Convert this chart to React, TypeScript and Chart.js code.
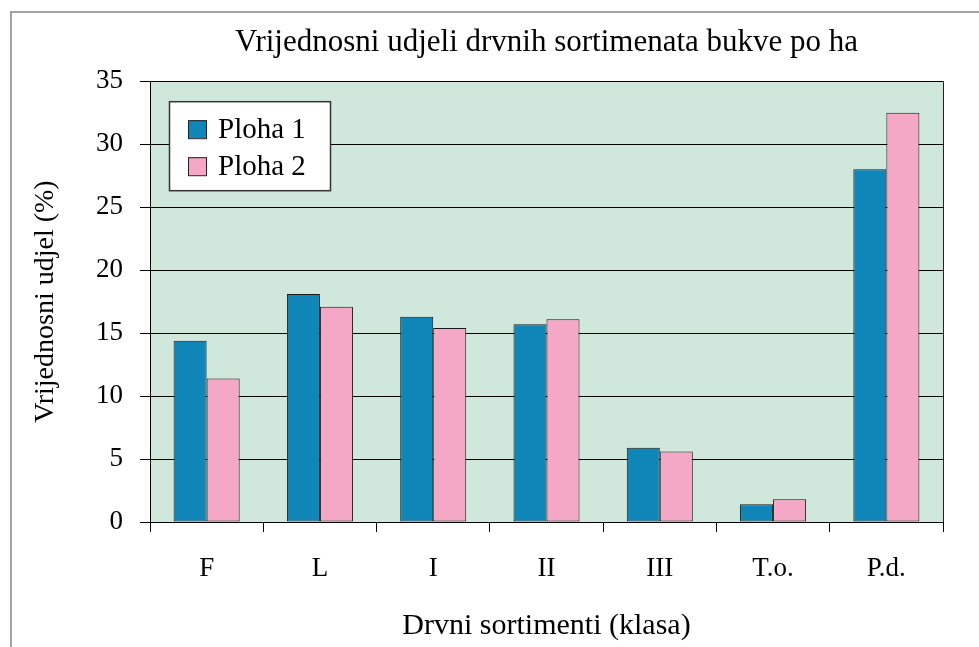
import React, { useEffect, useRef } from "react";
import { Chart, registerables } from "chart.js";

Chart.register(...registerables);

const categories = ["F", "L", "I", "II", "III", "T.o.", "P.d."];
const ploha1 = [14.4, 18.1, 16.3, 15.7, 5.9, 1.4, 28.0];
const ploha2 = [11.4, 17.1, 15.4, 16.1, 5.6, 1.8, 32.5];
const seriesNames = ["Ploha 1", "Ploha 2"];
const seriesColors = ["#1086b8", "#f5a8c6"];
const yTicks = { min: 0, max: 35, step: 5 };
const chartTitle = "Vrijednosni udjeli drvnih sortimenata bukve po ha";
const yTitle = "Vrijednosni udjel (%)";
const xTitle = "Drvni sortimenti (klasa)";

const FONT = "'Liberation Serif', 'Times New Roman', serif";

const plotBg = {
  id: "plotBg",
  beforeDraw(chart: any) {
    const { ctx, chartArea: a } = chart;
    ctx.save();
    ctx.fillStyle = "#d0e7db";
    ctx.fillRect(a.left, a.top, a.right - a.left, a.bottom - a.top);
    ctx.restore();
  },
  afterDraw(chart: any) {
    const { ctx, chartArea: a } = chart;
    ctx.save();
    ctx.strokeStyle = "#222";
    ctx.lineWidth = 1;
    ctx.beginPath();
    ctx.moveTo(Math.round(a.right) + 0.5, a.top);
    ctx.lineTo(Math.round(a.right) + 0.5, a.bottom);
    ctx.stroke();
    ctx.restore();
  },
};

const innerLegend = {
  id: "innerLegend",
  afterDraw(chart: any) {
    const { ctx, chartArea: a } = chart;
    const x = a.left + 19;
    const y = a.top + 20;
    const w = 161;
    const h = 89;
    ctx.save();
    ctx.fillStyle = "#ffffff";
    ctx.fillRect(x, y, w, h);
    ctx.strokeStyle = "#333";
    ctx.lineWidth = 1.5;
    ctx.strokeRect(x + 0.5, y + 0.5, w, h);
    ctx.font = `29px ${FONT}`;
    ctx.textBaseline = "middle";
    chart.data.datasets.forEach((ds: any, i: number) => {
      const cy = y + 28 + i * 37;
      ctx.fillStyle = ds.backgroundColor;
      ctx.fillRect(x + 19, cy - 9, 18, 18);
      ctx.strokeStyle = "#222";
      ctx.lineWidth = 1;
      ctx.strokeRect(x + 19.5, cy - 8.5, 18, 18);
      ctx.fillStyle = "#000";
      ctx.fillText(ds.label, x + 49, cy + 1);
    });
    ctx.restore();
  },
};

export default function App() {
  const ref = useRef<HTMLCanvasElement>(null);
  useEffect(() => {
    document.body.style.margin = "0";
    Chart.defaults.color = "#000";
    const chart = new Chart(ref.current!, {
      type: "bar",
      data: {
        labels: categories,
        datasets: [
          {
            label: seriesNames[0],
            data: ploha1,
            backgroundColor: seriesColors[0],
            borderColor: "#1a1a1a",
            borderWidth: 1,
            borderSkipped: false,
          },
          {
            label: seriesNames[1],
            data: ploha2,
            backgroundColor: seriesColors[1],
            borderColor: "#1a1a1a",
            borderWidth: 1,
            borderSkipped: false,
          },
        ],
      },
      options: {
        responsive: false,
        animation: false,
        devicePixelRatio: 1,
        layout: { padding: { left: 0, right: 36, top: 0, bottom: 0 } },
        datasets: { bar: { categoryPercentage: 0.583, barPercentage: 1 } },
        plugins: {
          legend: { display: false },
          tooltip: { enabled: false },
          title: {
            display: true,
            fullSize: false,
            text: chartTitle,
            color: "#000",
            font: { family: FONT, size: 31, weight: "normal" },
            padding: { top: 24, bottom: 20 },
          },
        },
        scales: {
          x: {
            grid: {
              drawOnChartArea: false,
              drawTicks: true,
              tickLength: 10,
              color: "#000",
            },
            border: { display: true, color: "#000", width: 1 },
            ticks: {
              font: { family: FONT, size: 27 },
              color: "#000",
              padding: 21,
              maxRotation: 0,
            },
            title: {
              display: true,
              text: xTitle,
              color: "#000",
              font: { family: FONT, size: 30 },
              padding: { top: 0, bottom: 3 },
            },
            afterFit(scale: any) {
              scale.height = 125;
            },
          },
          y: {
            min: yTicks.min,
            max: yTicks.max,
            grid: { color: "#000", lineWidth: 1, tickLength: 10 },
            border: { display: true, color: "#000", width: 1 },
            ticks: {
              stepSize: yTicks.step,
              font: { family: FONT, size: 27 },
              color: "#000",
              padding: 17,
            },
            title: {
              display: true,
              text: yTitle,
              color: "#000",
              font: { family: FONT, size: 28 },
              padding: { top: 29, bottom: 0 },
            },
            afterFit(scale: any) {
              scale.width = 150;
            },
          },
        },
      },
      plugins: [plotBg, innerLegend],
    });
    return () => chart.destroy();
  }, []);

  return (
    <div style={{ position: "relative", width: 979, height: 647, overflow: "hidden", background: "#fff" }}>
      <canvas ref={ref} width={979} height={647} style={{ display: "block", width: 979, height: 647 }} />
      <div
        style={{
          position: "absolute",
          left: 10,
          top: 11,
          width: 1200,
          height: 900,
          borderLeft: "2px solid #a3a3a3",
          borderTop: "2px solid #a3a3a3",
          pointerEvents: "none",
        }}
      />
    </div>
  );
}
